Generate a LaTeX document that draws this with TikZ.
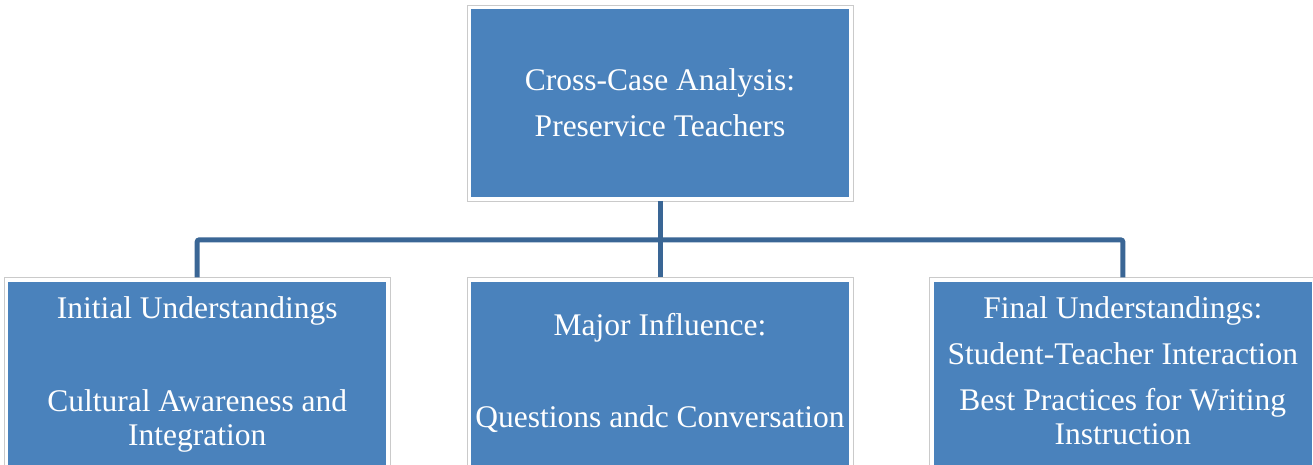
\documentclass[tikz,border=0pt]{standalone}
\usepackage{fontspec}
\setmainfont{Liberation Serif}
\usetikzlibrary{positioning}

\definecolor{boxblue}{HTML}{4A82BC}
\definecolor{linkblue}{HTML}{3A6695}
\definecolor{framegray}{HTML}{CACACA}

\begin{document}
\begin{tikzpicture}[x=1pt,y=-1pt,node distance=76pt,
  box/.style={rectangle, draw=framegray, line width=0.8pt, fill=white,
    minimum width=386pt, minimum height=196pt, inner sep=0pt,
    text=white, align=center, font=\fontsize{31.5}{34}\selectfont,
    path picture={\fill[boxblue]
      ([xshift=4pt,yshift=-4pt]path picture bounding box.north west) rectangle
      ([xshift=-4pt,yshift=4pt]path picture bounding box.south east);}},
  link/.style={draw=linkblue, line width=5pt, rounded corners=2pt}]
\useasboundingbox (0,0) rectangle (1313,464);

\node[box] (top) at (660,103) {Cross-Case Analysis:\\[12pt]Preservice Teachers};

\node[box, below=of top] (mid) {Major Influence:\\[58pt]Questions andc Conversation\strut};
\node[box, left=of mid] (initial) {Initial Understandings\\[59pt]Cultural Awareness and\\Integration\strut};
\node[box, right=of mid] (final) {Final Understandings:\\[12pt]Student-Teacher Interaction\\[12pt]Best Practices for Writing\\Instruction\strut};

% tree links
\coordinate (bus) at ([yshift=-38.5pt]top.south);
\draw[link] (top.south) -- (mid.north);
\draw[link] (initial.north) |- (bus) -| (final.north);

\end{tikzpicture}
\end{document}
